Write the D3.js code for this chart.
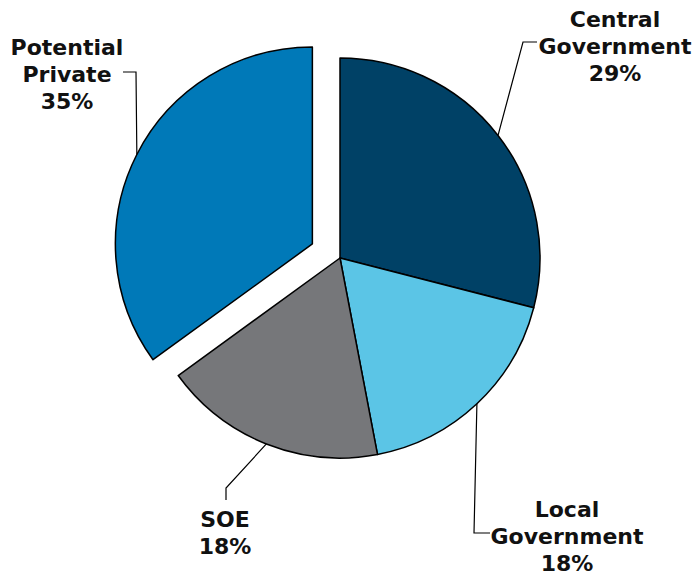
<!DOCTYPE html>
<html>
<head>
<meta charset="utf-8">
<script src="https://cdn.jsdelivr.net/npm/d3@7/dist/d3.min.js"></script>
<style>
  html, body { margin: 0; padding: 0; background: #fff; }
  svg { display: block; }
  text { font-family: "DejaVu Sans", Verdana, sans-serif; font-weight: bold; font-size: 22px; fill: #111; }
</style>
</head>
<body>
<svg id="chart" width="694" height="575"></svg>
<script>
// Data
const categories = ["Central Government", "Local Government", "SOE", "Potential Private"];
const labelLines = [["Central", "Government"], ["Local", "Government"], ["SOE"], ["Potential", "Private"]];
const values = [29, 18, 18, 35];
const colors = ["#004166", "#5bc5e6", "#76777a", "#0079b8"];
const exploded = [false, false, false, true];

// Layout
const W = 694, H = 575;
const cx = 340, cy = 258, R = 200, Rexp = 197, explodeDist = 31;
const lineH = 27;
// label anchors (center x, first baseline y) and leader elbow / end points
const labelLayout = [
  { x: 615, y: 27, elbow: [523, 42], end: [537, 42] },
  { x: 567, y: 517, elbow: [474, 533], end: [490, 533] },
  { x: 225, y: 527, elbow: [226, 488], end: [226, 500] },
  { x: 67, y: 55, elbow: [136, 72], end: [123, 72] }
];

const svg = d3.select("#chart");
const g = svg.append("g").attr("transform", `translate(${cx},${cy})`);

const pie = d3.pie().sort(null).value(d => d).startAngle(0).endAngle(2 * Math.PI);
const arcs = pie(values);
const radiusOf = i => exploded[i] ? Rexp : R;
const arc = d3.arc().innerRadius(0).outerRadius((d, i) => radiusOf(d.index));

function offset(i) {
  if (!exploded[i]) return [0, 0];
  const a = (arcs[i].startAngle + arcs[i].endAngle) / 2;
  return [explodeDist * Math.sin(a), -explodeDist * Math.cos(a)];
}

g.selectAll("path.slice")
  .data(arcs)
  .join("path")
  .attr("class", "slice")
  .attr("d", arc)
  .attr("transform", (d, i) => { const o = offset(i); return `translate(${o[0]},${o[1]})`; })
  .attr("fill", (d, i) => colors[i])
  .attr("stroke", "#000")
  .attr("stroke-width", 1.5)
  .attr("stroke-linejoin", "round");

// Leader lines
arcs.forEach((d, i) => {
  const a = (d.startAngle + d.endAngle) / 2;
  const o = offset(i);
  const r = radiusOf(i);
  const sx = cx + o[0] + r * Math.sin(a);
  const sy = cy + o[1] - r * Math.cos(a);
  const L = labelLayout[i];
  svg.append("polyline")
    .attr("points", [[sx, sy], L.elbow, L.end].map(p => p.join(",")).join(" "))
    .attr("fill", "none")
    .attr("stroke", "#000")
    .attr("stroke-width", 1.2);
});

// Labels
arcs.forEach((d, i) => {
  const L = labelLayout[i];
  const lines = labelLines[i].concat([values[i] + "%"]);
  const t = svg.append("text").attr("text-anchor", "middle");
  lines.forEach((ln, k) => {
    t.append("tspan").attr("x", L.x).attr("y", L.y + k * lineH).text(ln);
  });
});
</script>
</body>
</html>
